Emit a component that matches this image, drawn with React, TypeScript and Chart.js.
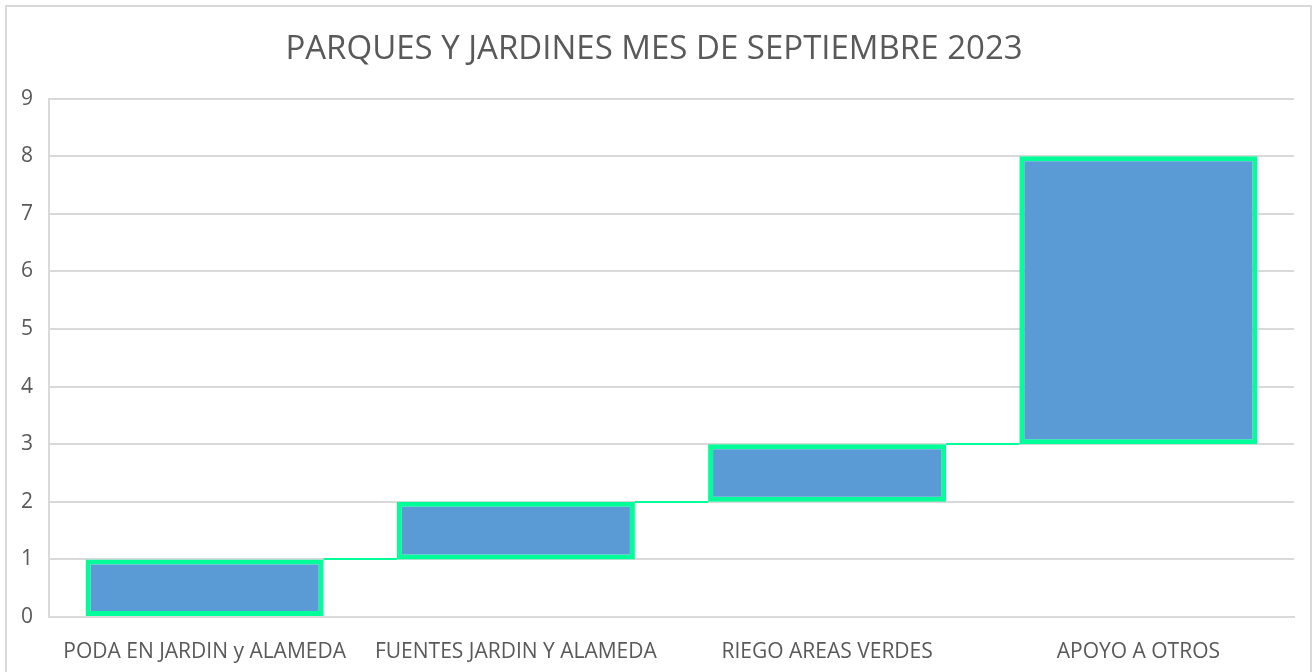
import React, { useEffect, useRef } from "react";
import { Chart, registerables } from "chart.js";

Chart.register(...registerables);

const TITLE = "PARQUES Y JARDINES MES DE SEPTIEMBRE 2023";
const categories = [
  "PODA EN JARDIN y ALAMEDA",
  "FUENTES JARDIN Y ALAMEDA",
  "RIEGO AREAS VERDES",
  "APOYO A OTROS",
];
const increments = [1, 1, 1, 5];
const yTicks = [0, 1, 2, 3, 4, 5, 6, 7, 8, 9];

const FILL = "#5B9BD5";
const EDGE = "#00FF99";
const TEXT = "#595959";
const GRID = "#D9D9D9";
const FONT = "'Open Sans', 'Noto Sans', sans-serif";

export default function App() {
  const ref = useRef<HTMLCanvasElement>(null);

  useEffect(() => {
    if (!ref.current) return;
    const floating: [number, number][] = [];
    const ends: number[] = [];
    let acc = 0;
    increments.forEach((v) => {
      floating.push([acc, acc + v]);
      acc += v;
      ends.push(acc);
    });

    const connectors = {
      id: "connectors",
      beforeDatasetsDraw(chart: any) {
        const meta = chart.getDatasetMeta(0);
        const ys = chart.scales.y;
        const ctx = chart.ctx;
        ctx.save();
        ctx.strokeStyle = EDGE;
        ctx.lineWidth = 2;
        for (let i = 0; i < meta.data.length - 1; i++) {
          const a = meta.data[i];
          const b = meta.data[i + 1];
          const y = Math.round(ys.getPixelForValue(ends[i]));
          ctx.beginPath();
          ctx.moveTo(a.x + a.width / 2, y);
          ctx.lineTo(b.x - b.width / 2, y);
          ctx.stroke();
        }
        ctx.restore();
      },
    };

    const chart = new Chart(ref.current, {
      type: "bar",
      data: {
        labels: categories,
        datasets: [
          {
            data: floating as any,
            backgroundColor: FILL,
            borderColor: EDGE,
            borderWidth: 5,
            borderSkipped: false,
            categoryPercentage: 1,
            barPercentage: 0.765,
          },
        ],
      },
      options: {
        animation: false,
        responsive: false,
        maintainAspectRatio: false,
        layout: { padding: { left: 14, right: 22, top: 0, bottom: 0 } },
        plugins: {
          legend: { display: false },
          tooltip: { enabled: false },
          title: {
            display: true,
            text: TITLE,
            color: TEXT,
            font: { family: FONT, size: 33, weight: "normal" },
            padding: { top: 30, bottom: 29 },
          },
        },
        scales: {
          x: {
            grid: { display: false, drawTicks: false },
            border: { display: true, color: GRID, width: 2 },
            ticks: {
              color: TEXT,
              font: { family: FONT, size: 21 },
              padding: 22,
              maxRotation: 0,
              autoSkip: false,
            },
            afterFit(s: any) {
              s.height = 55;
            },
          },
          y: {
            min: 0,
            max: 9,
            afterBuildTicks(s: any) {
              s.ticks = yTicks.map((v) => ({ value: v }));
            },
            grid: { color: GRID, lineWidth: 2, drawTicks: false },
            border: { display: true, color: GRID, width: 2 },
            ticks: {
              color: TEXT,
              font: { family: FONT, size: 21 },
              padding: 16,
            },
            afterFit(s: any) {
              s.width = 35;
            },
          },
        },
      },
      plugins: [connectors],
    });
    return () => chart.destroy();
  }, []);

  return (
    <div style={{ position: "fixed", left: 0, top: 0, width: 1316, height: 672, background: "#fff", overflow: "hidden" }}>
      <div
        style={{
          position: "absolute",
          left: 5,
          top: 5,
          width: 1303,
          height: 700,
          border: "2px solid #D9D9D9",
        }}
      />
      <canvas ref={ref} width={1316} height={672} style={{ position: "absolute", left: 0, top: 0 }} />
    </div>
  );
}
